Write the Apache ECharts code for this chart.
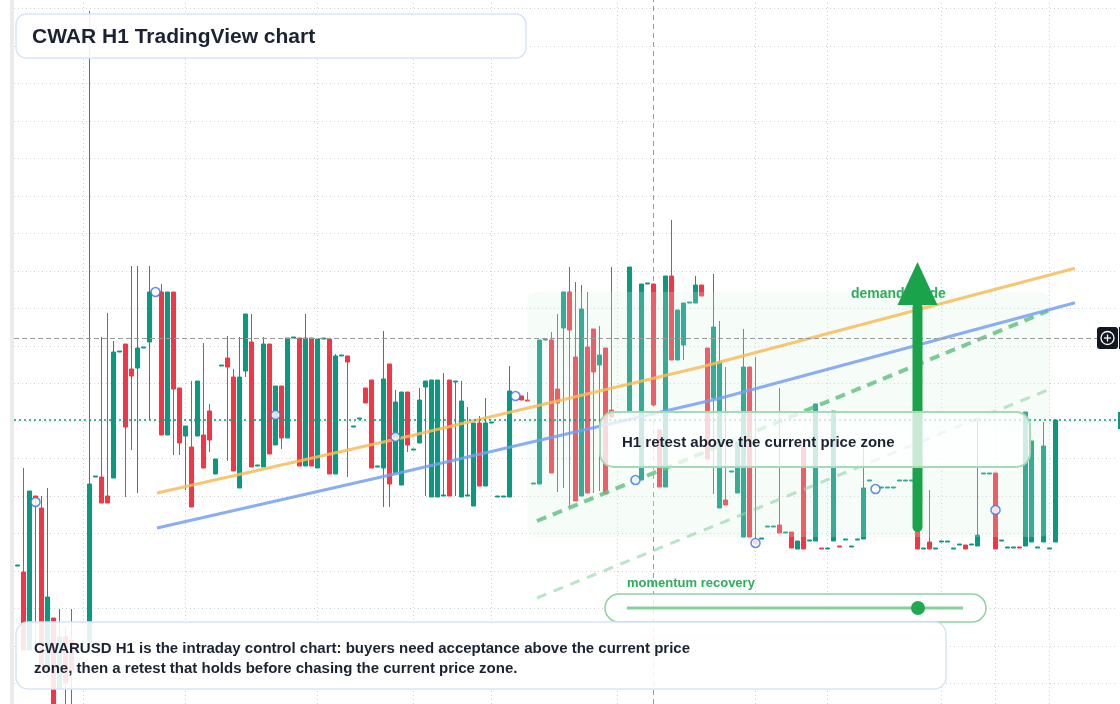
<!DOCTYPE html>
<html>
<head>
<meta charset="utf-8">
<title>CWAR H1 TradingView chart</title>
<script src="https://cdn.jsdelivr.net/npm/echarts@6/dist/echarts.min.js"></script>
<style>
html,body{margin:0;padding:0;background:#fff;}
#chart{width:1120px;height:704px;}
</style>
</head>
<body>
<div id="chart"></div>
<script>
// H1 bars, one per hour: [open, close, low, high]; null = no bar
var ohlc = [
  [155,156,155,156],[149,71,71,253],[71,230,71,230],[225,222,71,225],[213,54,54,225],
  [51,124,51,233],[103,9,9,103],[33,84,33,112],[84,38,0,94],[81,51,0,112],
  null,null,[79,237,79,710],[244,245,244,245],[244,218,218,384],
  [225,218,218,408],[243,369,243,380],[369,370,369,370],[377,294,224,377],[352,345,271,455],
  [353,373,228,455],[373,374,373,374],[379,429,301,455],null,[429,286,286,437],
  [286,429,286,429],[429,332,266,429],[333,278,266,333],[285,295,231,295],[274,214,214,340],
  [285,340,285,340],[286,253,253,378],[310,281,269,317],[247,262,247,262],[355,356,355,356],
  [363,354,260,385],[344,250,250,352],[233,344,233,384],[350,407,344,407],[379,254,254,407],
  [255,256,255,256],[254,377,254,384],[377,267,267,377],[276,335,276,335],[335,283,272,335],
  [283,383,283,383],[383,384,383,384],[383,255,255,383],[255,383,255,407],[383,255,255,383],
  [253,382,253,382],[382,383,382,383],[382,247,247,382],[247,365,247,367],[365,366,365,366],
  [365,359,244,365],[294,295,294,295],[302,303,302,303],[333,318,318,333],[341,253,253,341],
  [254,255,254,255],[253,342,214,390],[357,237,214,357],[248,319,248,331],[236,329,236,329],
  [329,276,269,329],[271,272,271,272],[278,321,278,333],[334,340,225,340],[224,341,224,341],
  [224,341,224,341],[225,226,225,348],[341,225,225,341],[339,340,225,340],[224,320,224,340],
  [225,226,225,314],[215,298,215,298],[298,235,235,305],[235,298,235,323],[298,299,298,299],
  [224,225,224,225],[224,225,224,225],[224,330,224,355],null,[325,321,321,325],
  [321,320,320,329],[237,238,237,238],[237,381,237,381],[381,382,381,382],[381,248,248,389],
  [332,318,229,407],[393,429,233,429],[429,391,214,454],[364,220,220,439],[225,412,225,436],
  [374,228,228,429],[392,349,228,392],[356,366,230,395],[373,227,227,373],[311,304,304,454],
  null,null,[310,454,310,454],null,[241,437,241,437],
  [437,438,437,438],[437,316,316,437],[291,234,234,291],[234,445,234,445],[445,361,361,501],
  [361,411,361,411],[376,418,361,418],[418,419,418,419],[418,436,418,445],[436,425,425,436],
  [373,262,262,373],[323,394,227,447],[213,359,213,400],[221,216,216,354],[249,250,249,250],
  [228,279,228,279],[184,354,184,392],[354,184,184,354],[180,177,176,364],[182,183,182,183],
  [194,195,194,195],[194,195,194,195],[196,188,188,333],[188,189,188,189],[189,173,173,189],
  [172,180,172,180],[274,172,172,274],[180,181,180,181],[180,317,180,317],[173,172,172,173],
  [172,173,172,173],[180,310,180,310],[175,174,174,175],[181,182,181,182],[174,175,174,175],
  [181,182,181,182],[182,233,182,274],[240,241,240,241],null,[233,234,233,234],
  [233,234,233,234],[233,234,233,234],[240,241,240,241],[240,241,240,241],[240,241,240,241],
  [196,172,172,196],[172,173,172,173],[179,172,172,231],[172,173,172,173],[179,180,179,180],
  [179,180,179,180],[172,173,172,173],[176,177,176,177],[176,172,172,176],[176,177,176,177],
  [175,186,175,302],[247,248,247,248],[247,248,247,248],[248,172,172,248],[180,181,180,181],
  [173,174,173,174],[173,174,173,174],[174,173,173,174],[175,309,175,309],[179,280,179,280],
  [173,174,173,174],[179,275,179,299],[172,173,172,173],[179,301,179,301]
];

// blue alert circles (bar index, price)
var markerIdx = [3, 23, 43, 63, 83, 103, 123, 143, 163];
var markerVal = [219, 429, 306, 284, 325, 241, 178, 232, 211];

// drawn trend lines, [bar index, price]
var orangeLine = [[23.25, 228], [63.75, 282.7], [113.75, 353.7], [176.25, 452.7]];
var blueLine = [[23.25, 193], [63.75, 248.3], [117.08, 322.7], [176.25, 418.3]];
var guideUpper = [[86.58, 200], [171.75, 410]];
var guideLower = [[86.58, 123], [171.75, 331]];

// session separators (bar index)
var timeTicks = [11, 28, 50, 66, 79, 100, 123, 135, 154, 163, 172];

var lastPrice = 301;
var crossIdx = 106, crossPrice = 383;
var zoneBox = [[84.92, 429], [172.08, 184]];
var arrowIdx = 150, arrowFrom = 194, arrowHead = 416, arrowTip = 459;

var teal = '#089981', red = '#f23645';
var gridGray = '#d2d2d2';
var font = '"Liberation Sans", Arial, sans-serif';

var candles = [];
ohlc.forEach(function (d, i) { if (d) candles.push([i].concat(d)); });
var markers = markerIdx.map(function (x, k) { return [x, markerVal[k]]; });

var hidden = { axisLine: { show: false }, axisTick: { show: false }, axisLabel: { show: false }, splitLine: { show: false } };

var chart = echarts.init(document.getElementById('chart'));
chart.setOption({
  animation: false,
  backgroundColor: '#ffffff',
  grid: [
    { left: 14, right: 3, top: 8.5, bottom: 20.5 },
    { left: 14, right: 3, top: 0, bottom: 0 }
  ],
  xAxis: [
    { type: 'value', gridIndex: 0, min: -0.58333, max: 183.25, show: false },
    { type: 'value', gridIndex: 1, min: -0.58333, max: 183.25, show: false }
  ],
  yAxis: [
    {
      type: 'value', gridIndex: 0, min: 37.5, max: 712.5, interval: 37.5,
      axisLine: { show: false }, axisTick: { show: false }, axisLabel: { show: false },
      splitLine: { lineStyle: { color: gridGray, type: [1, 3], width: 1 } }
    },
    Object.assign({ type: 'value', gridIndex: 1, min: 0, max: 1 }, hidden)
  ],
  series: [
    {
      // full-height vertical lines: session separators + crosshair
      type: 'line', xAxisIndex: 1, yAxisIndex: 1, z: 1, data: [[0, 0]],
      symbol: 'none', silent: true, lineStyle: { width: 0 },
      markLine: {
        silent: true, symbol: 'none', z: 1, label: { show: false },
        data: timeTicks.map(function (t) {
          return { xAxis: t, lineStyle: { color: gridGray, type: [1, 3], width: 1 } };
        }).concat([{ xAxis: crossIdx, lineStyle: { color: '#9a9a9a', type: [5, 4], width: 1 } }])
      }
    },
    {
      type: 'candlestick', z: 2, barWidth: 4, clip: false, data: candles,
      itemStyle: { color: teal, color0: red, borderColor: teal, borderColor0: red, borderWidth: 1 },
      markLine: {
        silent: true, symbol: 'none', z: 5, label: { show: false },
        data: [
          { yAxis: lastPrice, lineStyle: { color: teal, type: [2, 3], width: 1.5 } },
          { yAxis: crossPrice, lineStyle: { color: '#9a9a9a', type: [5, 3], width: 1 } }
        ]
      }
    },
    {
      type: 'line', z: 4, data: guideLower, symbol: 'none', silent: true,
      lineStyle: { color: 'rgba(140,210,165,0.6)', width: 3, type: [10, 8] }
    },
    {
      type: 'line', z: 4, data: guideUpper, symbol: 'none', silent: true,
      lineStyle: { color: 'rgba(100,195,130,0.85)', width: 4, type: [10, 7] }
    },
    {
      type: 'line', z: 4, data: orangeLine, symbol: 'none', silent: true,
      lineStyle: { color: 'rgba(246,188,88,0.85)', width: 3 }
    },
    {
      type: 'line', z: 4, data: blueLine, symbol: 'none', silent: true,
      lineStyle: { color: 'rgba(118,160,240,0.85)', width: 3 }
    },
    {
      type: 'scatter', z: 5, data: markers, symbol: 'circle', symbolSize: 9, silent: true,
      itemStyle: { color: '#ffffff', borderColor: '#3d74e0', borderWidth: 1.6 }
    }
  ]
});

function px(p) { return chart.convertToPixel({ gridIndex: 0 }, p); }
var z0 = px(zoneBox[0]), z1 = px(zoneBox[1]);
var a0 = px([arrowIdx, arrowFrom]), aH = px([arrowIdx, arrowHead]), aT = px([arrowIdx, arrowTip]);

function box(x, y, w, h, r, fill, stroke, lw) {
  return { type: 'rect', z: 10, silent: true, shape: { x: x, y: y, width: w, height: h, r: r },
    style: { fill: fill, stroke: stroke, lineWidth: lw } };
}
function label(x, y, text, size, color) {
  return { type: 'text', z: 11, silent: true, x: x, y: y,
    style: { text: text, fill: color, font: 'bold ' + size + 'px ' + font, align: 'left', verticalAlign: 'middle' } };
}

chart.setOption({
  graphic: [
    { type: 'rect', z: 1, silent: true, shape: { x: 10, y: 0, width: 4, height: 704 }, style: { fill: '#ebebeb' } },
    { type: 'rect', z: 3, silent: true,
      shape: { x: z0[0], y: z0[1], width: z1[0] - z0[0], height: z1[1] - z0[1], r: 10 },
      style: { fill: 'rgba(215,242,224,0.22)' } },
    { type: 'text', z: 6, silent: true, x: 851, y: 294,
      style: { text: 'demand guide', fill: '#2eae5b', font: 'bold 14px ' + font, verticalAlign: 'middle' } },
    { type: 'line', z: 7, silent: true,
      shape: { x1: a0[0], y1: a0[1], x2: aH[0], y2: aH[1] + 2 },
      style: { stroke: '#1ba34b', lineWidth: 10, lineCap: 'round' } },
    { type: 'polygon', z: 7, silent: true,
      shape: { points: [[aH[0] - 20, aH[1]], [aH[0] + 20, aH[1]], [aT[0], aT[1]]] },
      style: { fill: '#1ba34b' } },

    box(16, 14, 510, 44, 10, 'rgba(255,255,255,0.9)', '#d8e5f7', 1.5),
    label(32, 37, 'CWAR H1 TradingView chart', 21, '#1b2333'),

    box(600, 412, 430, 55, 14, 'rgba(255,255,255,0.76)', '#a6dab6', 2),
    label(622, 442.5, 'H1 retest above the current price zone', 15, '#1b2333'),

    label(627, 583, 'momentum recovery', 13, '#2eae5b'),
    box(605, 594, 381, 28, 14, 'rgba(255,255,255,0.8)', '#8fd3a3', 1.5),
    { type: 'line', z: 11, silent: true, shape: { x1: 627, y1: 608, x2: 963, y2: 608 },
      style: { stroke: '#86cf9b', lineWidth: 3 } },
    { type: 'circle', z: 12, silent: true, shape: { cx: 918, cy: 608, r: 7 }, style: { fill: '#22a94f' } },

    box(16, 622, 930, 67, 12, 'rgba(255,255,255,0.88)', '#d6e4f7', 1.5),
    label(34, 648.5, 'CWARUSD H1 is the intraday control chart: buyers need acceptance above the current price', 15, '#1b2333'),
    label(34, 668.5, 'zone, then a retest that holds before chasing the current price zone.', 15, '#1b2333'),

    { type: 'rect', z: 12, silent: true, shape: { x: 1097, y: 327, width: 21, height: 22, r: 3 }, style: { fill: '#131722' } },
    { type: 'rect', z: 12, silent: true, shape: { x: 1119, y: 327, width: 1, height: 22 }, style: { fill: '#131722' } },
    { type: 'circle', z: 13, silent: true, shape: { cx: 1107.5, cy: 338, r: 6.5 }, style: { fill: 'none', stroke: '#ffffff', lineWidth: 1.3 } },
    { type: 'line', z: 13, silent: true, shape: { x1: 1104, y1: 338, x2: 1111, y2: 338 }, style: { stroke: '#ffffff', lineWidth: 1.3 } },
    { type: 'line', z: 13, silent: true, shape: { x1: 1107.5, y1: 334.5, x2: 1107.5, y2: 341.5 }, style: { stroke: '#ffffff', lineWidth: 1.3 } },
    { type: 'rect', z: 12, silent: true, shape: { x: 1118, y: 412, width: 2, height: 17 }, style: { fill: teal } }
  ]
});
</script>
</body>
</html>
